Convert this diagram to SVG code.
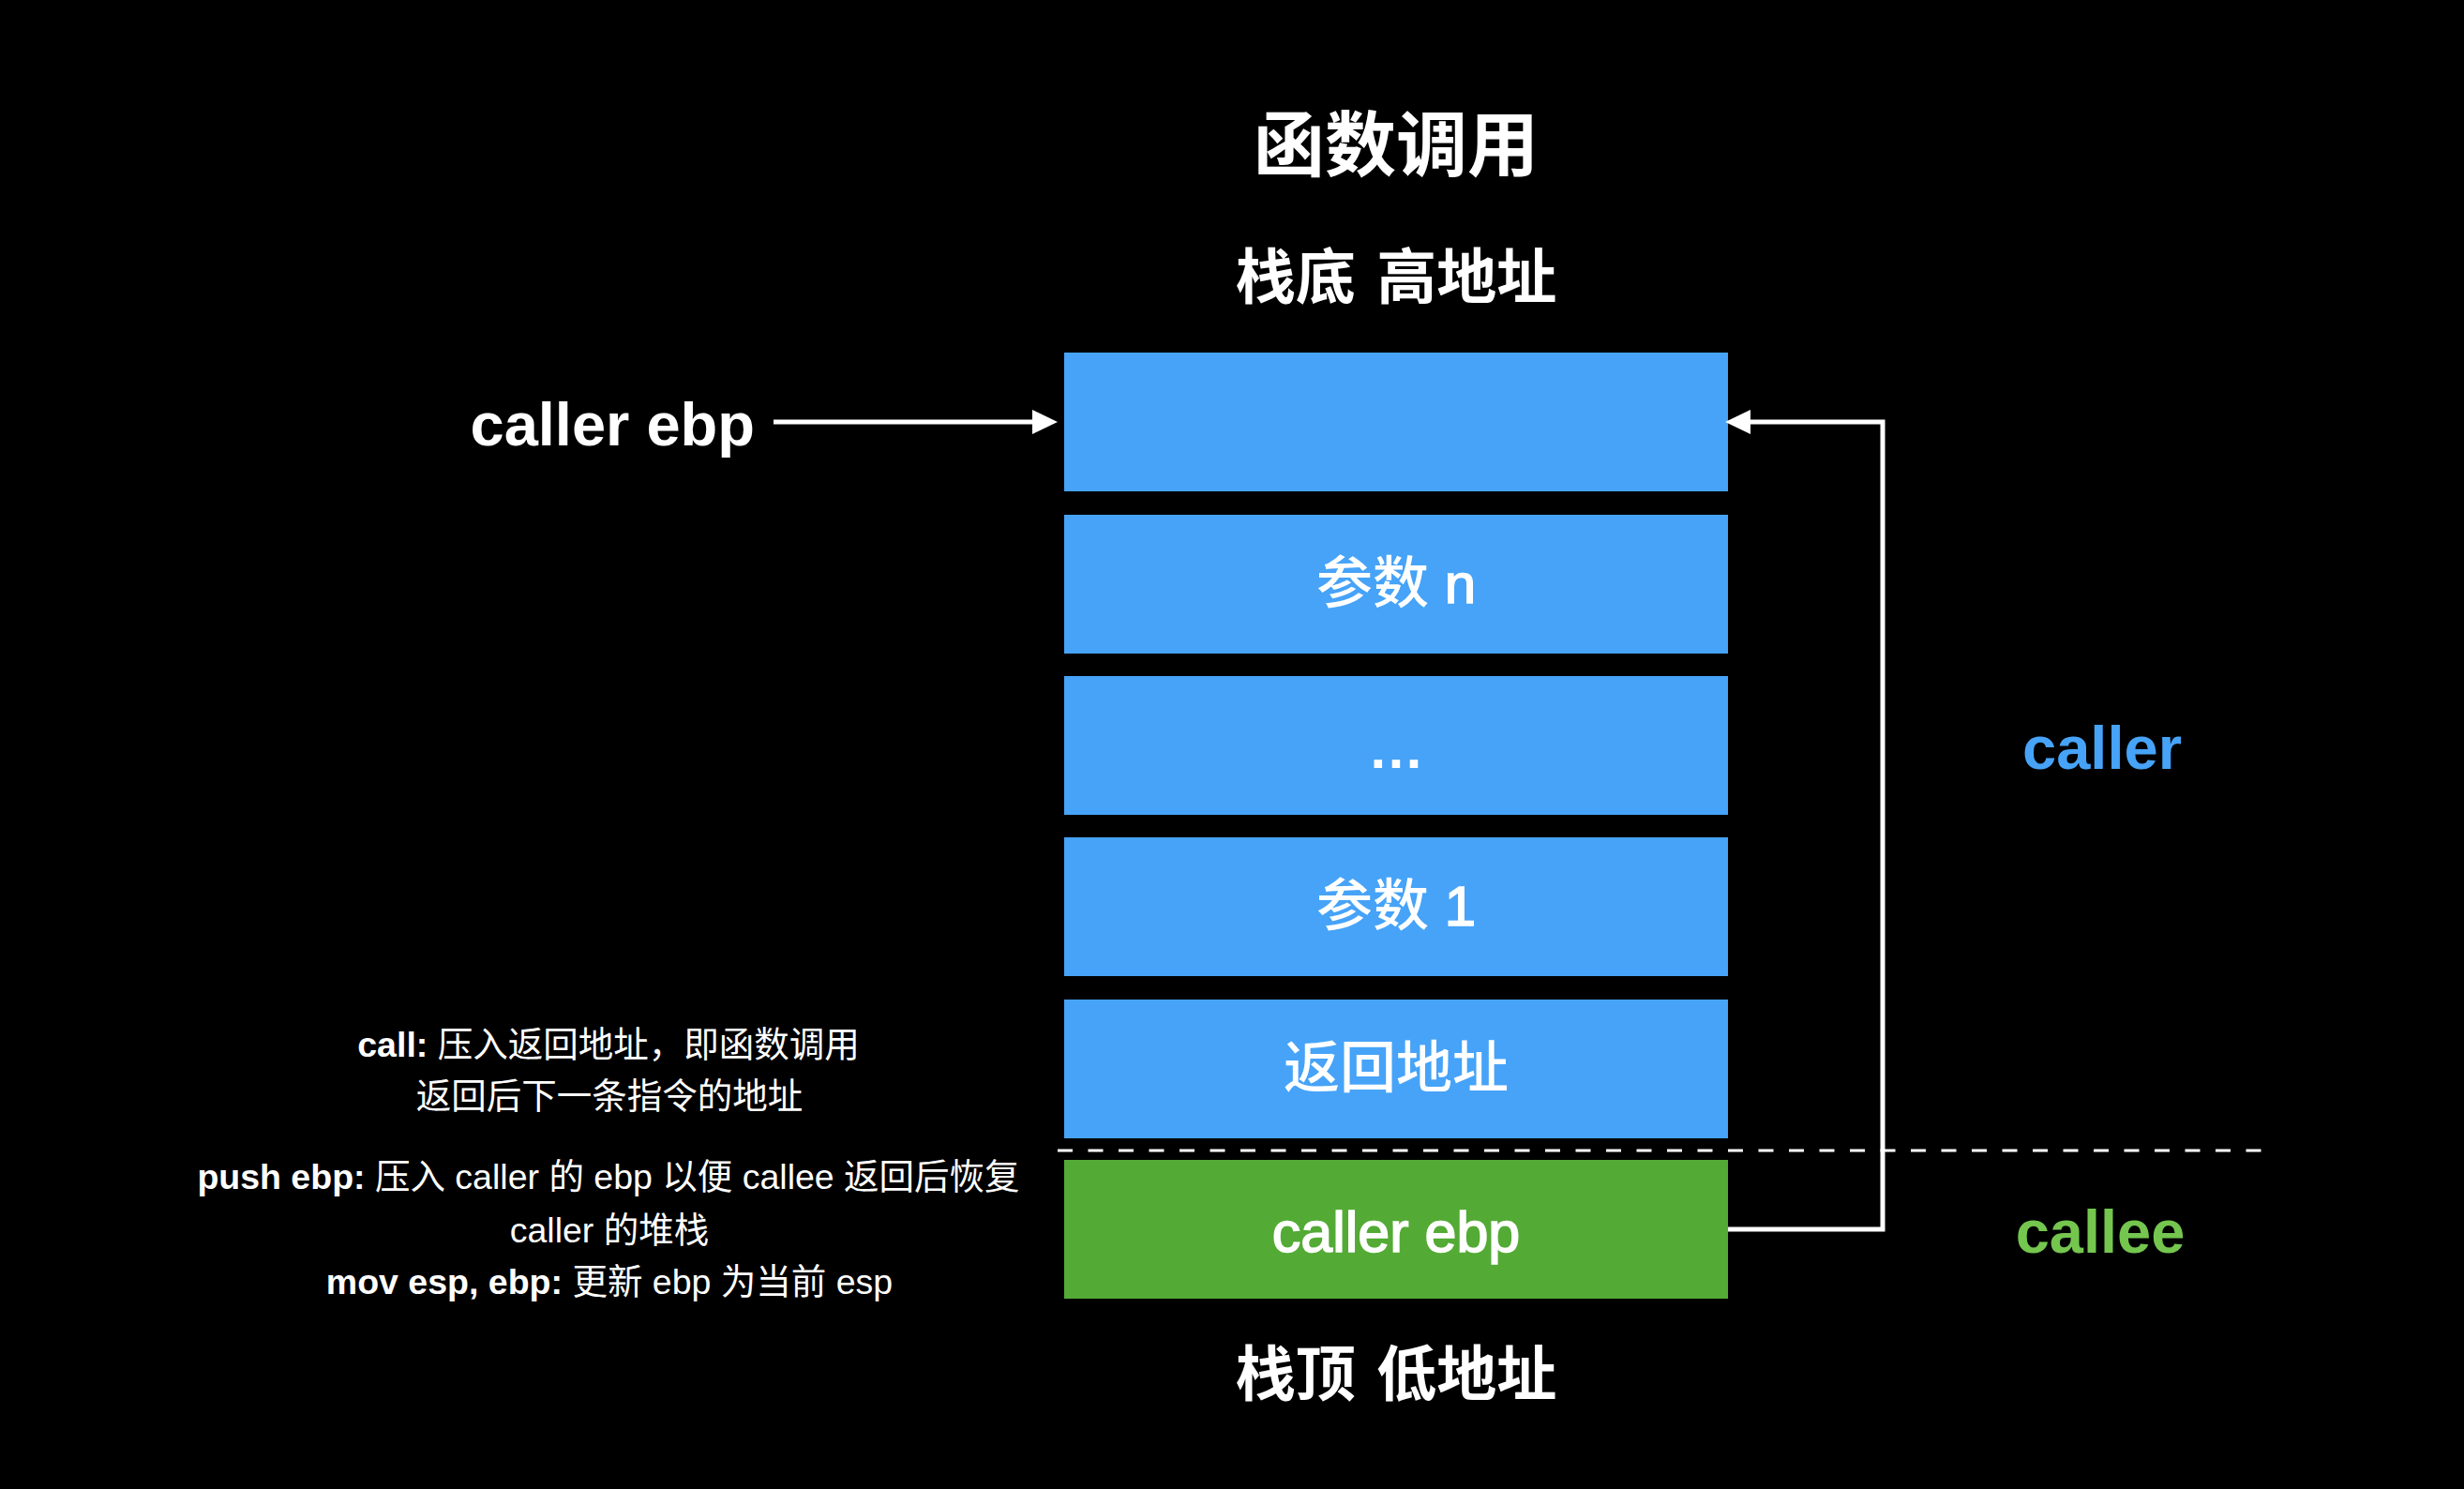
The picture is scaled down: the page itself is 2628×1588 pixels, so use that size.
<svg xmlns="http://www.w3.org/2000/svg" width="2628" height="1588" viewBox="0 0 2628 1588">
<style>
.bg{fill:#000}
.blue{fill:#46A3F8}
.green{fill:#53AB35}
.t{font-family:"Liberation Sans","Noto Sans CJK SC",sans-serif;fill:#fff}
.cjk{font-family:"Noto Sans CJK SC","Liberation Sans",sans-serif;fill:#fff;font-weight:700}
.lbl{font-size:60px;text-anchor:middle;font-weight:500}
.med{stroke:#fff;stroke-width:1.6}
.note{font-size:37.5px;text-anchor:middle}
.b{font-weight:700}
.conn{stroke:#fff;stroke-width:5;fill:none}
.dash{stroke:#fff;stroke-width:3;fill:none;stroke-dasharray:16 16.5}
</style>
<defs>
<marker id="ah" markerUnits="userSpaceOnUse" markerWidth="28" markerHeight="26" refX="0" refY="13" orient="auto">
<path d="M0,0 L27,13 L0,26 Z" fill="#fff"/>
</marker>
</defs>
<rect class="bg" x="0" y="0" width="2628" height="1588"/>

<text class="cjk" x="1489" y="182" font-size="76" text-anchor="middle">函数调用</text>
<text class="cjk" x="1489" y="318" font-size="64" text-anchor="middle" word-spacing="8">栈底 高地址</text>
<text class="cjk" x="1489" y="1488" font-size="64" text-anchor="middle" word-spacing="8">栈顶 低地址</text>

<g id="node-top">
<rect class="blue" x="1135" y="376" width="708" height="148"/>
</g>
<g id="node-param-n">
<rect class="blue" x="1135" y="549" width="708" height="148"/>
<text class="t lbl" x="1489" y="643">参数 <tspan class="med">n</tspan></text>
</g>
<g id="node-dots">
<rect class="blue" x="1135" y="721" width="708" height="148"/>
<text class="t lbl b" x="1489" y="819">…</text>
</g>
<g id="node-param-1">
<rect class="blue" x="1135" y="893" width="708" height="148"/>
<text class="t lbl" x="1489" y="987">参数 <tspan class="med">1</tspan></text>
</g>
<g id="node-ret">
<rect class="blue" x="1135" y="1066" width="708" height="148"/>
<text class="t lbl" x="1489" y="1160">返回地址</text>
</g>
<g id="node-caller-ebp">
<rect class="green" x="1135" y="1237" width="708" height="148"/>
<text class="t med" x="1489" y="1335" font-size="61" text-anchor="middle">caller ebp</text>
</g>

<g id="label-caller-ebp">
<text class="t b" x="805" y="475" font-size="65" text-anchor="end">caller ebp</text>
</g>
<g id="label-caller">
<text class="t b" x="2242" y="820" font-size="65" text-anchor="middle" style="fill:#46A3F8">caller</text>
</g>
<g id="label-callee">
<text class="t b" x="2240" y="1336" font-size="65" text-anchor="middle" style="fill:#74C64E">callee</text>
</g>

<g id="notes">
<text class="t note" x="649" y="1127"><tspan class="b">call:</tspan> 压入返回地址，即函数调用</text>
<text class="t note" x="650" y="1182">返回后下一条指令的地址</text>
<text class="t note" x="649" y="1268"><tspan class="b">push ebp:</tspan> 压入 caller 的 ebp 以便 callee 返回后恢复</text>
<text class="t note" x="650" y="1325">caller 的堆栈</text>
<text class="t note" x="650" y="1380"><tspan class="b">mov esp, ebp:</tspan> 更新 ebp 为当前 esp</text>
</g>

<g id="connectors">
<line class="dash" x1="1128" y1="1227" x2="2416" y2="1227"/>
<path class="conn" d="M825,450 H1101" marker-end="url(#ah)"/>
<path class="conn" d="M1843,1311 H2008 V450 H1867" marker-end="url(#ah)"/>
</g>
</svg>
